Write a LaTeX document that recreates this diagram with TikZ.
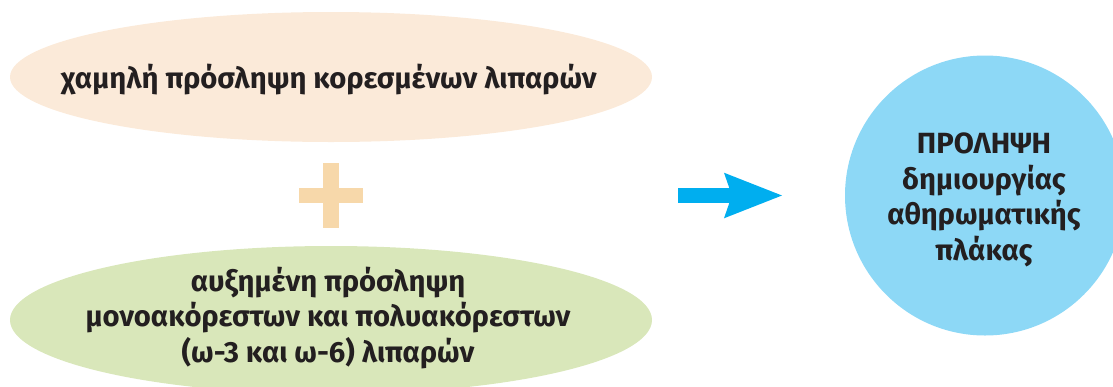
\documentclass[tikz,border=0pt]{standalone}
\usepackage{fontspec}
\setmainfont{Fira Sans}
\usetikzlibrary{shapes.geometric,arrows.meta}
\definecolor{peach}{HTML}{FBEAD9}
\definecolor{plusc}{HTML}{F7D8AA}
\definecolor{greenc}{HTML}{D9E7BA}
\definecolor{arrowc}{HTML}{00AEEF}
\definecolor{circc}{HTML}{8DD8F6}
\definecolor{txtc}{HTML}{231F20}
\tikzset{
  blob/.style={ellipse, inner sep=0pt, minimum width=642pt},
  txt/.style={text=txtc, align=center, font=\fontsize{29.2}{35.5}\selectfont\bfseries, inner sep=0pt},
  plusbar/.style={fill=plusc, draw=none},
}
\begin{document}
\begin{tikzpicture}[x=1pt,y=-1pt]
\useasboundingbox (0,0) rectangle (1113,386);
\clip (0,0) rectangle (1113,386);
% top ellipse
\node[blob, fill=peach, minimum height=130pt] (top) at (331,77) {};
\node[txt] (toptxt) at (329,80) {χαμηλή πρόσληψη κορεσμένων λιπαρών};
% plus
\fill[plusbar] (323,163) rectangle (339,228);
\fill[plusbar] (299,188) rectangle (363,203);
% bottom ellipse
\node[blob, fill=greenc, minimum height=148pt] (bot) at (331,320) {};
\node[txt] (bottxt) at (328,318) {αυξημένη πρόσληψη\\μονοακόρεστων και πολυακόρεστων\\(ω-3 και ω-6) λιπαρών};
% circle
\node[circle, fill=circc, minimum size=280pt, inner sep=0pt] (circ) at (985,195.5) {};
\node[txt] (circtxt) at (984,200) {ΠΡΟΛΗΨΗ\\δημιουργίας\\αθηρωματικής\\πλάκας};
% arrow
\coordinate (as) at (678,195.5);
\coordinate (ae) at (783,195.5);
\draw[arrowc, line width=15pt, -{Stealth[length=57pt, width=42pt, inset=6pt]}] (as) -- (ae);
\end{tikzpicture}
\end{document}
